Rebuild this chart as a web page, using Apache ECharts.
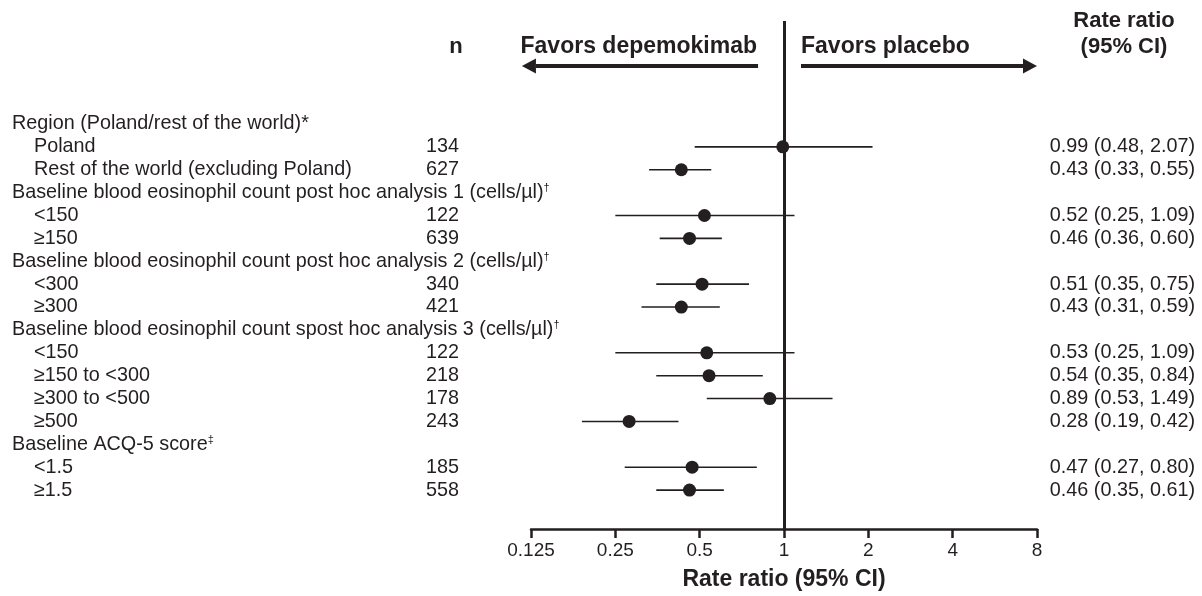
<!DOCTYPE html>
<html>
<head>
<meta charset="utf-8">
<script src="https://cdn.jsdelivr.net/npm/echarts@6/dist/echarts.min.js"></script>
<style>
  html, body { margin: 0; padding: 0; background: #ffffff; }
  #chart { width: 1202px; height: 596px; }
</style>
</head>
<body>
<div id="chart"></div>
<script>
// Subgroup rows, top to bottom. Header rows carry no estimate.
const rowLabels = [
  'Region (Poland/rest of the world)*',
  'Poland',
  'Rest of the world (excluding Poland)',
  'Baseline blood eosinophil count post hoc analysis 1 (cells/µl){sup|†}',
  '<150',
  '≥150',
  'Baseline blood eosinophil count post hoc analysis 2 (cells/µl){sup|†}',
  '<300',
  '≥300',
  'Baseline blood eosinophil count spost hoc analysis 3 (cells/µl){sup|†}',
  '<150',
  '≥150 to <300',
  '≥300 to <500',
  '≥500',
  'Baseline ACQ-5 score{sup|‡}',
  '<1.5',
  '≥1.5'
];
const isHeader = [true, false, false, true, false, false, true, false, false, true, false, false, false, false, true, false, false];
const nValues   = [null, 134, 627, null, 122, 639, null, 340, 421, null, 122, 218, 178, 243, null, 185, 558];
const rateRatio = [null, 0.99, 0.43, null, 0.52, 0.46, null, 0.51, 0.43, null, 0.53, 0.54, 0.89, 0.28, null, 0.47, 0.46];
const ciLow     = [null, 0.48, 0.33, null, 0.25, 0.36, null, 0.35, 0.31, null, 0.25, 0.35, 0.53, 0.19, null, 0.27, 0.35];
const ciHigh    = [null, 2.07, 0.55, null, 1.09, 0.60, null, 0.75, 0.59, null, 1.09, 0.84, 1.49, 0.42, null, 0.80, 0.61];
const xTicks    = [0.125, 0.25, 0.5, 1, 2, 4, 8];

// Direction arrows above the plot: [tail, tip] on the rate-ratio scale
const arrowLeft  = [0.808, 0.116];
const arrowRight = [1.15, 8];
const arrowRow = -2.53;

const FONT = "'Liberation Sans', Arial, Helvetica, sans-serif";
const INK = '#231f20';
const FS = 19.8;
const BOLD = `bold 22px ${FONT}`;
const BOLD_FAVORS = `bold 23px ${FONT}`;

const chart = echarts.init(document.getElementById('chart'), null, { renderer: 'canvas' });

const fmt = v => v.toFixed(2);
const rowIdx = rowLabels.map((_, i) => i);

const option = {
  backgroundColor: '#ffffff',
  animation: false,
  grid: { left: 531, right: 165, top: 21, bottom: 66.7, containLabel: false },
  xAxis: {
    type: 'log',
    logBase: 2,
    min: 0.125,
    max: 8,
    interval: 1,
    axisLine: { show: true, onZero: false, lineStyle: { color: INK, width: 2.5 } },
    axisTick: { show: true, length: 9, lineStyle: { color: INK, width: 2.5 } },
    axisLabel: {
      color: INK, fontSize: 19, fontFamily: FONT, margin: 12,
      formatter: v => String(xTicks.find(t => Math.abs(t - v) < 1e-6) ?? +v.toPrecision(3))
    },
    splitLine: { show: false },
    name: 'Rate ratio (95% CI)',
    nameLocation: 'middle',
    nameGap: 39,
    nameTextStyle: { color: INK, fontSize: 23, fontWeight: 'bold', fontFamily: FONT }
  },
  yAxis: {
    type: 'value', inverse: true, min: -4.5, max: 17.7, show: false
  },
  graphic: [
    { type: 'text', x: 456, y: 47, style: { text: 'n', font: BOLD, fill: INK, align: 'center', verticalAlign: 'middle' } },
    { type: 'text', x: 757, y: 47, style: { text: 'Favors depemokimab', font: BOLD_FAVORS, fill: INK, align: 'right', verticalAlign: 'middle' } },
    { type: 'text', x: 801, y: 47, style: { text: 'Favors placebo', font: BOLD_FAVORS, fill: INK, align: 'left', verticalAlign: 'middle' } },
    { type: 'text', x: 1124, y: 21, style: { text: 'Rate ratio', font: BOLD, fill: INK, align: 'center', verticalAlign: 'middle' } },
    { type: 'text', x: 1124, y: 47, style: { text: '(95% CI)', font: BOLD, fill: INK, align: 'center', verticalAlign: 'middle' } }
  ],
  series: [
    // Confidence interval whiskers
    {
      type: 'custom',
      silent: true,
      clip: false,
      data: rowIdx.filter(i => !isHeader[i]).map(i => [ciLow[i], ciHigh[i], i]),
      encode: { x: [0, 1], y: 2 },
      renderItem: (params, api) => {
        const a = api.coord([api.value(0), api.value(2)]);
        const b = api.coord([api.value(1), api.value(2)]);
        return {
          type: 'line',
          shape: { x1: a[0], y1: a[1], x2: b[0], y2: b[1] },
          style: { stroke: INK, lineWidth: 1.6 }
        };
      }
    },
    // Point estimates, with the line of no effect at 1
    {
      type: 'scatter',
      silent: true,
      symbol: 'circle',
      symbolSize: 13,
      itemStyle: { color: INK, opacity: 1 },
      data: rowIdx.filter(i => !isHeader[i]).map(i => [rateRatio[i], i]),
      markLine: {
        silent: true,
        symbol: ['none', 'none'],
        label: { show: false },
        lineStyle: { color: INK, width: 3, type: 'solid', opacity: 1 },
        data: [{ xAxis: 1 }]
      },
      z: 3
    },
    // Direction arrows
    {
      type: 'custom',
      silent: true,
      clip: false,
      data: [[arrowLeft[0], arrowLeft[1], arrowRow], [arrowRight[0], arrowRight[1], arrowRow]],
      encode: { x: [0, 1], y: 2 },
      renderItem: (params, api) => {
        const tail = api.coord([api.value(0), api.value(2)]);
        const tip = api.coord([api.value(1), api.value(2)]);
        const dir = tip[0] > tail[0] ? 1 : -1;
        const headLen = 14, headHalf = 7.5;
        const baseX = tip[0] - dir * headLen;
        return {
          type: 'group',
          children: [
            { type: 'line', shape: { x1: tail[0], y1: tail[1], x2: baseX, y2: tip[1] }, style: { stroke: INK, lineWidth: 4 } },
            { type: 'polygon', shape: { points: [[tip[0], tip[1]], [baseX, tip[1] - headHalf], [baseX, tip[1] + headHalf]] }, style: { fill: INK } }
          ]
        };
      }
    },
    // Row text: subgroup label, n and rate ratio with CI
    {
      type: 'custom',
      silent: true,
      clip: false,
      data: rowIdx.map(i => [1, i]),
      encode: { x: 0, y: 1 },
      renderItem: (params, api) => {
        const i = api.value(1);
        const y = api.coord([1, i])[1];
        const rich = { sup: { fontSize: 11, fontFamily: FONT, fill: INK, verticalAlign: 'top', padding: [0, 0, 8, 0] } };
        const children = [{
          type: 'text',
          x: isHeader[i] ? 12 : 34,
          y: y,
          style: { text: rowLabels[i], font: `${FS}px ${FONT}`, fill: INK, align: 'left', verticalAlign: 'middle', rich: rich }
        }];
        if (!isHeader[i]) {
          children.push({
            type: 'text', x: 426, y: y,
            style: { text: String(nValues[i]), font: `${FS}px ${FONT}`, fill: INK, align: 'left', verticalAlign: 'middle' }
          });
          children.push({
            type: 'text', x: 1195, y: y,
            style: { text: `${fmt(rateRatio[i])} (${fmt(ciLow[i])}, ${fmt(ciHigh[i])})`, font: `${FS}px ${FONT}`, fill: INK, align: 'right', verticalAlign: 'middle' }
          });
        }
        return { type: 'group', children: children };
      }
    }
  ]
};

chart.setOption(option);
</script>
</body>
</html>
